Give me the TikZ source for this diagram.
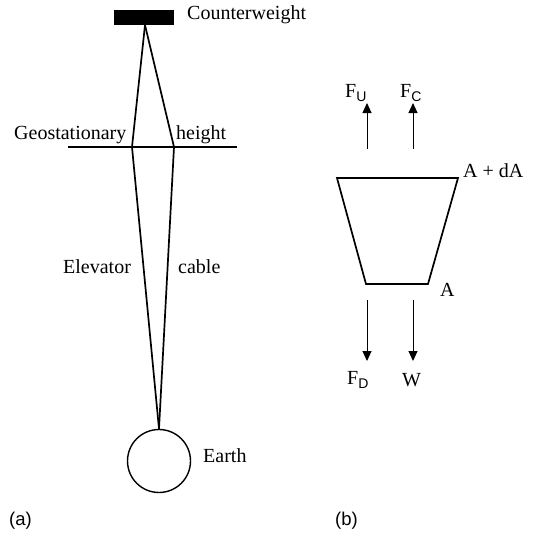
\documentclass[tikz,border=0pt]{standalone}
\usepackage{fontspec}
\setmainfont{Liberation Serif}
\setsansfont{Liberation Sans}
\usetikzlibrary{arrows.meta}
\begin{document}
\begin{tikzpicture}[x=1pt,y=-1pt,
  lbl/.style={font=\fontsize{20}{23}\selectfont, inner sep=0pt, anchor=west},
  panellbl/.style={font=\sffamily\fontsize{18.5}{21}\selectfont, inner sep=0pt, anchor=west},
  cab/.style={line width=1.7pt},
  hline/.style={line width=1.2pt},
  force/.style={line width=1pt, -{Triangle[length=10pt,width=9pt]}}]
\useasboundingbox (0,0) rectangle (536,541);
% panel (a)
\fill (114,10) rectangle (174,25);
\node[lbl] (cw) at (187,15) {Counterweight};
\coordinate (apex) at (145,25);
\coordinate (gl) at (132,147);
\coordinate (gr) at (174,147);
\node[circle, draw, line width=1.4pt, minimum size=63pt, inner sep=0pt] (earth) at (159,461) {};
\coordinate (bot) at (earth.north);
\draw[cab] (apex) -- (gl) -- (bot);
\draw[cab] (apex) -- (gr) -- (bot);
\coordinate (hl) at (68,147);
\coordinate (hr) at (237,147);
\draw[hline] (hl) -- (hr);
\node[lbl] (geo) at (14,135) {Geostationary};
\node[lbl] (hgt) at (176,135) {height};
\node[lbl] (elev) at (63,267) {Elevator};
\node[lbl] (cable) at (178,267) {cable};
\node[lbl] (earthlbl) at (203,456) {Earth};
\node[panellbl] (la) at (9,521) {(a)};
% panel (b)
\coordinate (tl) at (337,178);
\coordinate (tr) at (458,178);
\coordinate (br) at (428,284);
\coordinate (bl) at (366,284);
\draw[line width=1.7pt] (tl) -- (tr) -- (br) -- (bl) -- cycle;
\node[lbl] (adA) at (463,171) {A + dA};
\node[lbl] (A) at (440,290) {A};
\coordinate (u1s) at (367,149);
\coordinate (u1e) at (367,103);
\coordinate (u2s) at (413,149);
\coordinate (u2e) at (413,103);
\draw[force] (u1s) -- (u1e);
\draw[force] (u2s) -- (u2e);
\node[lbl] (fu) at (345,93) {F\textsubscript{\sffamily U}};
\node[lbl] (fc) at (400,93) {F\textsubscript{\sffamily C}};
\coordinate (d1s) at (367,300);
\coordinate (d1e) at (367,361);
\coordinate (d2s) at (413,300);
\coordinate (d2e) at (413,361);
\draw[force] (d1s) -- (d1e);
\draw[force] (d2s) -- (d2e);
\node[lbl] (fd) at (347,380) {F\textsubscript{\sffamily D}};
\node[lbl] (w) at (402,380) {W};
\node[panellbl] (lb) at (335,521) {(b)};
\end{tikzpicture}
\end{document}
